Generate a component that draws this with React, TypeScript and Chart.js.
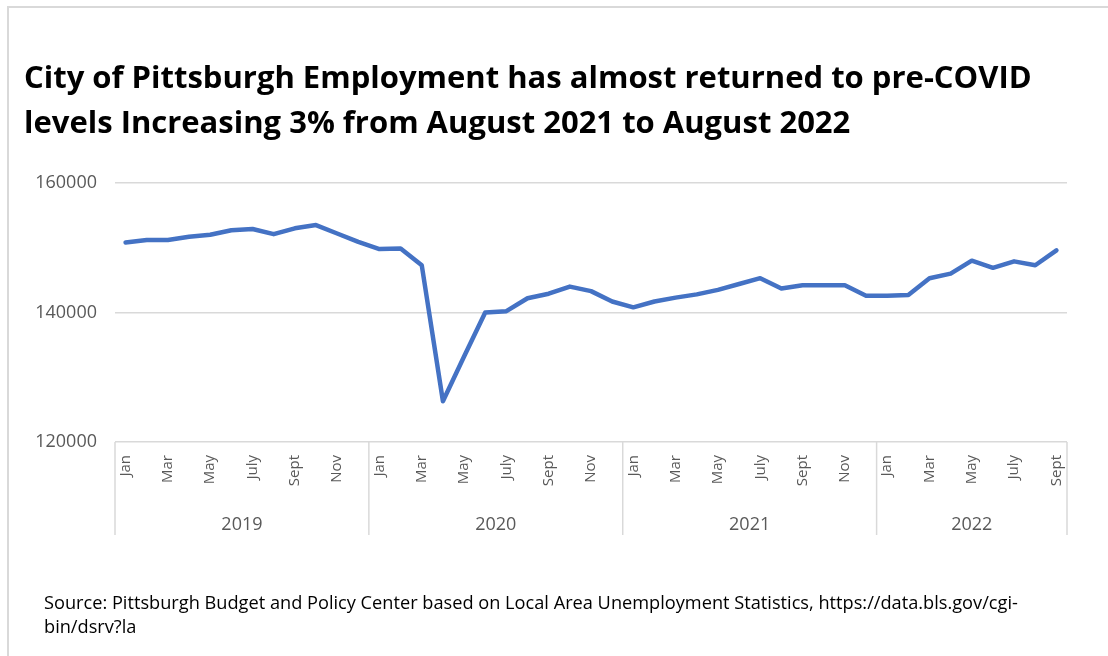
import React, { useEffect, useRef } from "react";
import { Chart, registerables } from "chart.js";

Chart.register(...registerables);

// ---- Data ----
const years = ["2019", "2020", "2021", "2022"];
const monthsPerYear = [12, 12, 12, 9];
const monthNames = ["Jan", "Feb", "Mar", "Apr", "May", "June", "July", "Aug", "Sept", "Oct", "Nov", "Dec"];

const employment2019 = [150800, 151200, 151200, 151700, 152000, 152700, 152900, 152100, 153000, 153500, 152200, 150900];
const employment2020 = [149800, 149900, 147300, 126300, 133200, 140000, 140200, 142200, 142900, 144000, 143300, 141700];
const employment2021 = [140800, 141700, 142300, 142800, 143500, 144400, 145300, 143700, 144200, 144200, 144200, 142600];
const employment2022 = [142600, 142700, 145300, 146000, 148000, 146900, 147900, 147300, 149600];

const yMin = 120000;
const yMax = 160000;
const yStep = 20000;

const titleLines = [
  "City of Pittsburgh Employment has almost returned to pre-COVID",
  "levels Increasing 3% from August 2021 to August 2022",
];
const sourceLines = [
  "Source: Pittsburgh Budget and Policy Center based on Local Area Unemployment Statistics, https://data.bls.gov/cgi-",
  "bin/dsrv?la",
];

// ---- Derived tables ----
const labels: string[] = [];
years.forEach((_, yi) => {
  for (let m = 0; m < monthsPerYear[yi]; m++) labels.push(monthNames[m]);
});
const values = [...employment2019, ...employment2020, ...employment2021, ...employment2022];

const FONT = '"Open Sans", "DejaVu Sans", sans-serif';
const GRID = "#d9d9d9";
const AXIS_TEXT = "#595959";

Chart.defaults.font.family = FONT;
Chart.defaults.font.size = 18;
Chart.defaults.color = AXIS_TEXT;

const yearGroupPlugin = {
  id: "yearGroups",
  afterDraw(chart: any) {
    const { ctx, chartArea } = chart;
    const xs = chart.scales.x;
    const step = (chartArea.right - chartArea.left) / labels.length;
    const yTop = chartArea.bottom;
    const yBot = 535;
    ctx.save();
    ctx.strokeStyle = GRID;
    ctx.lineWidth = 1.5;
    ctx.fillStyle = AXIS_TEXT;
    ctx.font = `18px ${FONT}`;
    ctx.textAlign = "center";
    ctx.textBaseline = "alphabetic";
    let start = 0;
    years.forEach((yr, yi) => {
      const n = monthsPerYear[yi];
      const x0 = xs.getPixelForValue(start) - step / 2;
      const x1 = xs.getPixelForValue(start + n - 1) + step / 2;
      ctx.beginPath();
      ctx.moveTo(x0, yTop);
      ctx.lineTo(x0, yBot);
      ctx.stroke();
      if (yi === years.length - 1) {
        ctx.beginPath();
        ctx.moveTo(x1, yTop);
        ctx.lineTo(x1, yBot);
        ctx.stroke();
      }
      ctx.fillText(yr, (x0 + x1) / 2, 530);
      start += n;
    });
    ctx.restore();
  },
};

export default function App() {
  const canvasRef = useRef<HTMLCanvasElement | null>(null);

  useEffect(() => {
    const canvas = canvasRef.current;
    if (!canvas) return;
    const chart = new Chart(canvas, {
      type: "line",
      data: {
        labels,
        datasets: [
          {
            label: "Employment",
            data: values,
            borderColor: "#4472C4",
            backgroundColor: "#4472C4",
            borderWidth: 4.5,
            pointRadius: 0,
            tension: 0,
            borderJoinStyle: "round",
            borderCapStyle: "round",
          },
        ],
      },
      options: {
        responsive: false,
        animation: false,
        layout: { padding: { left: 0, top: 183, right: 41, bottom: 114 } },
        plugins: {
          legend: { display: false },
          tooltip: { enabled: false },
          title: { display: false },
        },
        scales: {
          x: {
            type: "category",
            offset: true,
            afterFit: (s: any) => {
              s.height = 100;
            },
            grid: { display: false, drawTicks: false },
            border: { display: false },
            ticks: {
              autoSkip: false,
              minRotation: 90,
              maxRotation: 90,
              padding: 13,
              color: AXIS_TEXT,
              font: { family: FONT, size: 15 },
              callback: (_v: any, i: number) => (i % 2 === 0 ? labels[i] : ""),
            },
          },
          y: {
            type: "linear",
            min: yMin,
            max: yMax,
            afterFit: (s: any) => {
              s.width = 115;
            },
            grid: { color: GRID, lineWidth: 1.5, drawTicks: false },
            border: { display: false },
            ticks: {
              stepSize: yStep,
              padding: 18,
              color: AXIS_TEXT,
              font: { family: FONT, size: 18 },
              callback: (v: any) => String(v),
            },
          },
        },
      },
      plugins: [yearGroupPlugin],
    });
    return () => chart.destroy();
  }, []);

  return (
    <div
      style={{
        position: "fixed",
        left: 0,
        top: 0,
        width: 1108,
        height: 656,
        background: "#fff",
        overflow: "hidden",
        fontFamily: FONT,
      }}
    >
      <div
        style={{
          position: "absolute",
          left: 7,
          top: 6,
          width: 1101,
          height: 650,
          borderLeft: `2px solid ${GRID}`,
          borderTop: `2px solid ${GRID}`,
          boxSizing: "border-box",
        }}
      />
      <canvas
        ref={canvasRef}
        width={1108}
        height={656}
        style={{ position: "absolute", left: 0, top: 0, width: 1108, height: 656 }}
      />
      <div
        style={{
          position: "absolute",
          left: 24,
          top: 54,
          fontSize: 31,
          fontWeight: 700,
          lineHeight: "45px",
          color: "#000",
          whiteSpace: "nowrap",
        }}
      >
        {titleLines.map((l) => (
          <div key={l}>{l}</div>
        ))}
      </div>
      <div
        style={{
          position: "absolute",
          left: 44,
          top: 590,
          fontSize: 18.2,
          lineHeight: "24px",
          color: "#000",
          whiteSpace: "nowrap",
        }}
      >
        {sourceLines.map((l) => (
          <div key={l}>{l}</div>
        ))}
      </div>
    </div>
  );
}
